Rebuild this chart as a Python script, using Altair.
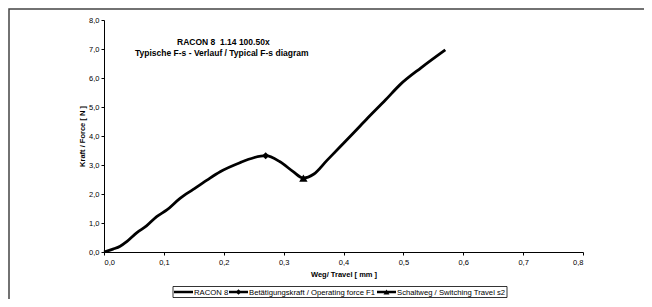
import altair as alt
import pandas as pd

# Curve data (Weg/Travel in mm, Kraft/Force in N)
travel = [0.0, 0.015, 0.027, 0.038, 0.055, 0.071, 0.088, 0.105, 0.127, 0.149,
          0.172, 0.194, 0.227, 0.250, 0.270, 0.294, 0.316, 0.333, 0.350, 0.372,
          0.394, 0.417, 0.440, 0.470, 0.495, 0.530, 0.570]
force = [0.0, 0.10, 0.20, 0.36, 0.67, 0.90, 1.22, 1.45, 1.85, 2.16,
         2.48, 2.77, 3.08, 3.25, 3.32, 3.11, 2.77, 2.55, 2.68, 3.15,
         3.62, 4.11, 4.61, 5.24, 5.78, 6.36, 6.97]

f1_travel = [0.270]
f1_force = [3.32]
s2_travel = [0.333]
s2_force = [2.55]

x_ticks = [0.0, 0.1, 0.2, 0.3, 0.4, 0.5, 0.6, 0.7, 0.8]
y_ticks = [0, 1, 2, 3, 4, 5, 6, 7, 8]

title_lines = ["RACON 8\u00a0 1.14 100.50x", "Typische F-s - Verlauf / Typical F-s diagram"]
legend_labels = ["RACON 8", "Betätigungskraft / Operating force F1", "Schaltweg / Switching Travel s2"]

FONT = "Liberation Sans"
W, H = 479, 232

curve = pd.DataFrame({"x": travel, "y": force})
f1 = pd.DataFrame({"x": f1_travel, "y": f1_force})
s2 = pd.DataFrame({"x": s2_travel, "y": s2_force})

lab = "replace(format(datum.value, '.1f'), '.', ',')"

xs = alt.Scale(domain=[0, 0.8], nice=False, zero=False)
ys = alt.Scale(domain=[0, 8], nice=False)

x_axis = alt.Axis(
    values=x_ticks, labelExpr=lab, title="Weg/ Travel [ mm ]", labelOverlap=False,
    titleY=22.5, titleBaseline="middle", tickSize=3, labelPadding=3)
y_axis = alt.Axis(
    values=y_ticks, labelExpr=lab, title="Kraft / Force [ N ]", labelOverlap=False,
    titleX=-21.5, titleY=H / 2, titleAngle=-90, titleAlign="center",
    titleBaseline="middle", tickSize=3, labelPadding=2)

x_enc = alt.X("x:Q", scale=xs, axis=x_axis)
y_enc = alt.Y("y:Q", scale=ys, axis=y_axis)

line = alt.Chart(curve).mark_line(
    color="black", strokeWidth=2.8, interpolate="monotone"
).encode(x=x_enc, y=y_enc)

p1 = alt.Chart(f1).mark_point(
    shape="diamond", filled=True, color="black", size=50, opacity=1
).encode(x=x_enc, y=y_enc)

p2 = alt.Chart(s2).mark_point(
    shape="triangle-up", filled=True, color="black", size=70, opacity=1
).encode(x=x_enc, y=y_enc)

one = pd.DataFrame({"a": [0]})

# outer frame
frame = alt.Chart(one).mark_rect(
    fill=None, stroke="#444", strokeWidth=1.5
).encode(x=alt.value(-95), x2=alt.value(600), y=alt.value(-11), y2=alt.value(300))

# title text
t1 = alt.Chart(pd.DataFrame({"t": [title_lines[0]]})).mark_text(
    font=FONT, fontSize=8.5, fontWeight="bold", align="left", baseline="middle", color="black"
).encode(text="t:N", x=alt.value(73), y=alt.value(21.5))
t2 = alt.Chart(pd.DataFrame({"t": [title_lines[1]]})).mark_text(
    font=FONT, fontSize=8.5, fontWeight="bold", align="left", baseline="middle", color="black"
).encode(text="t:N", x=alt.value(31), y=alt.value(32.5))

# legend
LY = 272
lbox = alt.Chart(one).mark_rect(
    fill="white", stroke="black", strokeWidth=0.8
).encode(x=alt.value(69), x2=alt.value(403), y=alt.value(266.5), y2=alt.value(277.5))

def seg(x1, x2):
    return alt.Chart(one).mark_rule(color="black", strokeWidth=2.5).encode(
        x=alt.value(x1), x2=alt.value(x2), y=alt.value(LY))

def ltext(x, s):
    return alt.Chart(pd.DataFrame({"t": [s]})).mark_text(
        font=FONT, fontSize=7.7, align="left", baseline="middle", color="black"
    ).encode(text="t:N", x=alt.value(x), y=alt.value(LY + 0.5))

lsym1 = alt.Chart(one).mark_point(shape="diamond", filled=True, color="black", size=30, opacity=1).encode(
    x=alt.value(134.5), y=alt.value(LY))
lsym2 = alt.Chart(one).mark_point(shape="triangle-up", filled=True, color="black", size=36, opacity=1).encode(
    x=alt.value(282.5), y=alt.value(LY))

chart = alt.layer(
    frame, line, p1, p2, t1, t2,
    lbox, seg(70, 89), ltext(90, legend_labels[0]),
    seg(125, 144), lsym1, ltext(145, legend_labels[1]),
    seg(273, 292), lsym2, ltext(293, legend_labels[2]),
).properties(
    width=W, height=H,
    autosize=alt.AutoSizeParams(type="none"),
    padding={"left": 96, "top": 12, "right": 61, "bottom": 47},
    background="white",
).configure_view(stroke=None).configure_axis(
    grid=False, domainColor="black", tickColor="black", domainWidth=1, tickWidth=1,
    labelFont=FONT, labelFontSize=7.5, labelColor="black",
    titleFont=FONT, titleFontSize=7.5, titleFontWeight="bold", titleColor="black",
)

chart.save("out.html", embed_options={"renderer": "svg", "actions": False})
